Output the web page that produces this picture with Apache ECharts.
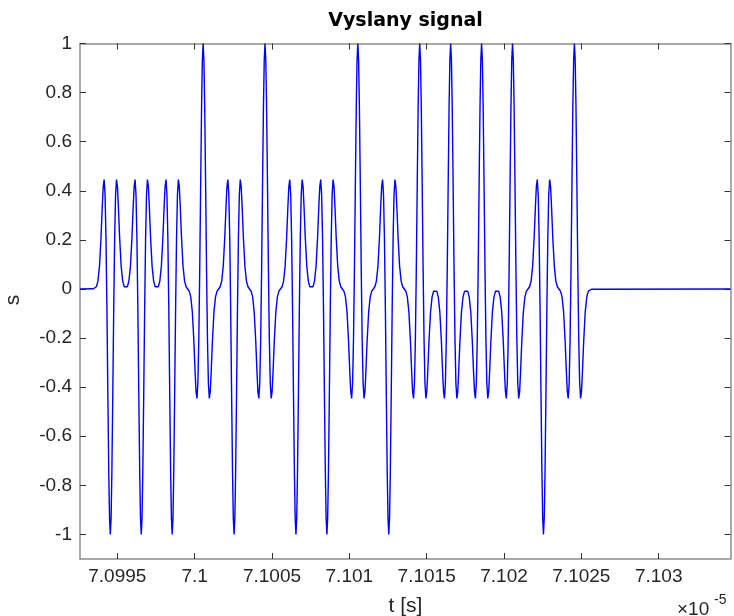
<!DOCTYPE html>
<html>
<head>
<meta charset="utf-8">
<script src="https://cdn.jsdelivr.net/npm/echarts@6/dist/echarts.min.js"></script>
<style>html,body{margin:0;padding:0;background:#fff}#c{width:734px;height:616px}</style>
</head>
<body>
<div id="c"></div>
<script>
// time axis values (in units of 1e-5 s)
const time = [
 7.099259, 7.099345,
 7.099365, 7.099375, 7.099385, 7.099395, 7.099403, 7.099409, 7.099415, 7.099421, 7.099427, 7.099433, 7.099439, 7.099445, 7.09945, 7.099455, 7.09946, 7.099465, 7.099471, 7.099477, 7.099483, 7.099489, 7.099495, 7.099501, 7.099507, 7.099515, 7.099525, 7.099535, 7.099545, 7.099555,
 7.099565, 7.099575, 7.099585, 7.099595, 7.099603, 7.099609, 7.099615, 7.099621, 7.099627, 7.099633, 7.099639, 7.099645, 7.09965, 7.099655, 7.09966, 7.099665, 7.099671, 7.099677, 7.099683, 7.099689, 7.099695, 7.099701, 7.099707, 7.099715, 7.099725, 7.099735, 7.099745, 7.099755,
 7.099765, 7.099775, 7.099785, 7.099795, 7.099803, 7.099809, 7.099815, 7.099821, 7.099827, 7.099833, 7.099839, 7.099845, 7.09985, 7.099855, 7.09986, 7.099865, 7.099871, 7.099877, 7.099883, 7.099889, 7.099895, 7.099901, 7.099907, 7.099915, 7.099925, 7.099935, 7.099945, 7.099955,
 7.099965, 7.099975, 7.099985, 7.099995, 7.100003, 7.100009, 7.100015, 7.100021, 7.100027, 7.100033, 7.100039, 7.100045, 7.10005, 7.100055, 7.10006, 7.100065, 7.100071, 7.100077, 7.100083, 7.100089, 7.100095, 7.100101, 7.100107, 7.100115, 7.100125, 7.100135, 7.100145, 7.100155,
 7.100165, 7.100175, 7.100185, 7.100195, 7.100203, 7.100209, 7.100215, 7.100221, 7.100227, 7.100233, 7.100239, 7.100245, 7.10025, 7.100255, 7.10026, 7.100265, 7.100271, 7.100277, 7.100283, 7.100289, 7.100295, 7.100301, 7.100307, 7.100315, 7.100325, 7.100335, 7.100345, 7.100355,
 7.100365, 7.100375, 7.100385, 7.100395, 7.100403, 7.100409, 7.100415, 7.100421, 7.100427, 7.100433, 7.100439, 7.100445, 7.10045, 7.100455, 7.10046, 7.100465, 7.100471, 7.100477, 7.100483, 7.100489, 7.100495, 7.100501, 7.100507, 7.100515, 7.100525, 7.100535, 7.100545, 7.100555,
 7.100565, 7.100575, 7.100585, 7.100595, 7.100603, 7.100609, 7.100615, 7.100621, 7.100627, 7.100633, 7.100639, 7.100645, 7.10065, 7.100655, 7.10066, 7.100665, 7.100671, 7.100677, 7.100683, 7.100689, 7.100695, 7.100701, 7.100707, 7.100715, 7.100725, 7.100735, 7.100745, 7.100755,
 7.100765, 7.100775, 7.100785, 7.100795, 7.100803, 7.100809, 7.100815, 7.100821, 7.100827, 7.100833, 7.100839, 7.100845, 7.10085, 7.100855, 7.10086, 7.100865, 7.100871, 7.100877, 7.100883, 7.100889, 7.100895, 7.100901, 7.100907, 7.100915, 7.100925, 7.100935, 7.100945, 7.100955,
 7.100965, 7.100975, 7.100985, 7.100995, 7.101003, 7.101009, 7.101015, 7.101021, 7.101027, 7.101033, 7.101039, 7.101045, 7.10105, 7.101055, 7.10106, 7.101065, 7.101071, 7.101077, 7.101083, 7.101089, 7.101095, 7.101101, 7.101107, 7.101115, 7.101125, 7.101135, 7.101145, 7.101155,
 7.101165, 7.101175, 7.101185, 7.101195, 7.101203, 7.101209, 7.101215, 7.101221, 7.101227, 7.101233, 7.101239, 7.101245, 7.10125, 7.101255, 7.10126, 7.101265, 7.101271, 7.101277, 7.101283, 7.101289, 7.101295, 7.101301, 7.101307, 7.101315, 7.101325, 7.101335, 7.101345, 7.101355,
 7.101365, 7.101375, 7.101385, 7.101395, 7.101403, 7.101409, 7.101415, 7.101421, 7.101427, 7.101433, 7.101439, 7.101445, 7.10145, 7.101455, 7.10146, 7.101465, 7.101471, 7.101477, 7.101483, 7.101489, 7.101495, 7.101501, 7.101507, 7.101515, 7.101525, 7.101535, 7.101545, 7.101555,
 7.101565, 7.101575, 7.101585, 7.101595, 7.101603, 7.101609, 7.101615, 7.101621, 7.101627, 7.101633, 7.101639, 7.101645, 7.10165, 7.101655, 7.10166, 7.101665, 7.101671, 7.101677, 7.101683, 7.101689, 7.101695, 7.101701, 7.101707, 7.101715, 7.101725, 7.101735, 7.101745, 7.101755,
 7.101765, 7.101775, 7.101785, 7.101795, 7.101803, 7.101809, 7.101815, 7.101821, 7.101827, 7.101833, 7.101839, 7.101845, 7.10185, 7.101855, 7.10186, 7.101865, 7.101871, 7.101877, 7.101883, 7.101889, 7.101895, 7.101901, 7.101907, 7.101915, 7.101925, 7.101935, 7.101945, 7.101955,
 7.101965, 7.101975, 7.101985, 7.101995, 7.102003, 7.102009, 7.102015, 7.102021, 7.102027, 7.102033, 7.102039, 7.102045, 7.10205, 7.102055, 7.10206, 7.102065, 7.102071, 7.102077, 7.102083, 7.102089, 7.102095, 7.102101, 7.102107, 7.102115, 7.102125, 7.102135, 7.102145, 7.102155,
 7.102165, 7.102175, 7.102185, 7.102195, 7.102203, 7.102209, 7.102215, 7.102221, 7.102227, 7.102233, 7.102239, 7.102245, 7.10225, 7.102255, 7.10226, 7.102265, 7.102271, 7.102277, 7.102283, 7.102289, 7.102295, 7.102301, 7.102307, 7.102315, 7.102325, 7.102335, 7.102345, 7.102355,
 7.102365, 7.102375, 7.102385, 7.102395, 7.102403, 7.102409, 7.102415, 7.102421, 7.102427, 7.102433, 7.102439, 7.102445, 7.10245, 7.102455, 7.10246, 7.102465, 7.102471, 7.102477, 7.102483, 7.102489, 7.102495, 7.102501, 7.102507, 7.102515, 7.102525, 7.102535, 7.102545, 7.102555,
 7.102565, 7.103464
];
// signal values s
const signal = [
 0, 0.001,
 0.009, 0.032, 0.093, 0.212, 0.337, 0.417, 0.446, 0.384, 0.206, -0.08, -0.426, -0.748, -0.933, -1, -0.933, -0.748, -0.426, -0.08, 0.206, 0.384, 0.446, 0.417, 0.337, 0.212, 0.093, 0.032, 0.009, 0.004,
 0.009, 0.032, 0.093, 0.212, 0.337, 0.417, 0.446, 0.384, 0.206, -0.08, -0.426, -0.748, -0.933, -1, -0.933, -0.748, -0.426, -0.08, 0.206, 0.384, 0.446, 0.417, 0.337, 0.212, 0.093, 0.032, 0.009, 0.004,
 0.009, 0.032, 0.093, 0.212, 0.337, 0.417, 0.446, 0.384, 0.206, -0.08, -0.426, -0.748, -0.933, -1, -0.933, -0.748, -0.426, -0.08, 0.206, 0.384, 0.446, 0.417, 0.337, 0.212, 0.093, 0.032, 0.009, 0,
 -0.009, -0.032, -0.093, -0.212, -0.337, -0.417, -0.446, -0.384, -0.206, 0.08, 0.426, 0.748, 0.933, 1, 0.933, 0.748, 0.426, 0.08, -0.206, -0.384, -0.446, -0.417, -0.337, -0.212, -0.093, -0.032, -0.009, 0,
 0.009, 0.032, 0.093, 0.212, 0.337, 0.417, 0.446, 0.384, 0.206, -0.08, -0.426, -0.748, -0.933, -1, -0.933, -0.748, -0.426, -0.08, 0.206, 0.384, 0.446, 0.417, 0.337, 0.212, 0.093, 0.032, 0.009, 0,
 -0.009, -0.032, -0.093, -0.212, -0.337, -0.417, -0.446, -0.384, -0.206, 0.08, 0.426, 0.748, 0.933, 1, 0.933, 0.748, 0.426, 0.08, -0.206, -0.384, -0.446, -0.417, -0.337, -0.212, -0.093, -0.032, -0.009, 0,
 0.009, 0.032, 0.093, 0.212, 0.337, 0.417, 0.446, 0.384, 0.206, -0.08, -0.426, -0.748, -0.933, -1, -0.933, -0.748, -0.426, -0.08, 0.206, 0.384, 0.446, 0.417, 0.337, 0.212, 0.093, 0.032, 0.009, 0.004,
 0.009, 0.032, 0.093, 0.212, 0.337, 0.417, 0.446, 0.384, 0.206, -0.08, -0.426, -0.748, -0.933, -1, -0.933, -0.748, -0.426, -0.08, 0.206, 0.384, 0.446, 0.417, 0.337, 0.212, 0.093, 0.032, 0.009, 0,
 -0.009, -0.032, -0.093, -0.212, -0.337, -0.417, -0.446, -0.384, -0.206, 0.08, 0.426, 0.748, 0.933, 1, 0.933, 0.748, 0.426, 0.08, -0.206, -0.384, -0.446, -0.417, -0.337, -0.212, -0.093, -0.032, -0.009, 0,
 0.009, 0.032, 0.093, 0.212, 0.337, 0.417, 0.446, 0.384, 0.206, -0.08, -0.426, -0.748, -0.933, -1, -0.933, -0.748, -0.426, -0.08, 0.206, 0.384, 0.446, 0.417, 0.337, 0.212, 0.093, 0.032, 0.009, 0,
 -0.009, -0.032, -0.093, -0.212, -0.337, -0.417, -0.446, -0.384, -0.206, 0.08, 0.426, 0.748, 0.933, 1, 0.933, 0.748, 0.426, 0.08, -0.206, -0.384, -0.446, -0.417, -0.337, -0.212, -0.093, -0.032, -0.009, -0.004,
 -0.009, -0.032, -0.093, -0.212, -0.337, -0.417, -0.446, -0.384, -0.206, 0.08, 0.426, 0.748, 0.933, 1, 0.933, 0.748, 0.426, 0.08, -0.206, -0.384, -0.446, -0.417, -0.337, -0.212, -0.093, -0.032, -0.009, -0.004,
 -0.009, -0.032, -0.093, -0.212, -0.337, -0.417, -0.446, -0.384, -0.206, 0.08, 0.426, 0.748, 0.933, 1, 0.933, 0.748, 0.426, 0.08, -0.206, -0.384, -0.446, -0.417, -0.337, -0.212, -0.093, -0.032, -0.009, -0.004,
 -0.009, -0.032, -0.093, -0.212, -0.337, -0.417, -0.446, -0.384, -0.206, 0.08, 0.426, 0.748, 0.933, 1, 0.933, 0.748, 0.426, 0.08, -0.206, -0.384, -0.446, -0.417, -0.337, -0.212, -0.093, -0.032, -0.009, 0,
 0.009, 0.032, 0.093, 0.212, 0.337, 0.417, 0.446, 0.384, 0.206, -0.08, -0.426, -0.748, -0.933, -1, -0.933, -0.748, -0.426, -0.08, 0.206, 0.384, 0.446, 0.417, 0.337, 0.212, 0.093, 0.032, 0.009, 0,
 -0.009, -0.032, -0.093, -0.212, -0.337, -0.417, -0.446, -0.384, -0.206, 0.08, 0.426, 0.748, 0.933, 1, 0.933, 0.748, 0.426, 0.08, -0.206, -0.384, -0.446, -0.417, -0.337, -0.212, -0.093, -0.032, -0.009, -0.002,
 -0.001, 0
];
const xTickValues = [7.0995, 7.1, 7.1005, 7.101, 7.1015, 7.102, 7.1025, 7.103];
const xTickLabels = ['7.0995', '7.1', '7.1005', '7.101', '7.1015', '7.102', '7.1025', '7.103'];
const yTickValues = [-1, -0.8, -0.6, -0.4, -0.2, 0, 0.2, 0.4, 0.6, 0.8, 1];
const yTickLabels = ['-1', '-0.8', '-0.6', '-0.4', '-0.2', '0', '0.2', '0.4', '0.6', '0.8', '1'];
const xRange = [7.099259, 7.103464];
const yRange = [-1.1, 1];
const titleText = 'Vyslany signal';
const xName = 't [s]';
const yName = 's';

const FONT = '"Liberation Sans", Arial, Helvetica, sans-serif';
const AXIS_COLOR = '#8c8c8c';
const TICK_COLOR = '#333';
const TEXT_COLOR = '#262626';

function lookup(vals, labels) {
  return function (v) {
    for (let i = 0; i < vals.length; i++) {
      if (Math.abs(vals[i] - v) < 1e-9) return labels[i];
    }
    return '';
  };
}

const pts = time.map((t, i) => [t, signal[i]]);

function xAx(pos, showLabel) {
  return {
    type: 'value', position: pos, min: xRange[0], max: xRange[1],
    axisLine: { show: true, onZero: false, lineStyle: { color: AXIS_COLOR, width: 1.5 } },
    axisTick: { show: true, inside: true, length: 6, customValues: xTickValues, lineStyle: { color: TICK_COLOR, width: 1 } },
    axisLabel: { show: showLabel, customValues: xTickValues, formatter: lookup(xTickValues, xTickLabels),
      color: TEXT_COLOR, fontFamily: FONT, fontSize: 19, margin: 8 },
    splitLine: { show: false }
  };
}
function yAx(pos, showLabel) {
  return {
    type: 'value', position: pos, min: yRange[0], max: yRange[1],
    axisLine: { show: true, onZero: false, lineStyle: { color: AXIS_COLOR, width: 1.5 } },
    axisTick: { show: true, inside: true, length: 6, customValues: yTickValues, lineStyle: { color: TICK_COLOR, width: 1 } },
    axisLabel: { show: showLabel, customValues: yTickValues, formatter: lookup(yTickValues, yTickLabels),
      color: TEXT_COLOR, fontFamily: FONT, fontSize: 19, margin: 8 },
    splitLine: { show: false }
  };
}

const chart = echarts.init(document.getElementById('c'));
chart.setOption({
  animation: false,
  backgroundColor: '#fff',
  title: {
    text: titleText, left: 405.5, top: 12, textAlign: 'center', padding: 0,
    textStyle: { fontFamily: '"DejaVu Sans", sans-serif', fontWeight: 'bold', fontSize: 19, color: '#000' }
  },
  grid: { left: 80, right: 3.5, top: 43.5, bottom: 57, containLabel: false },
  xAxis: [xAx('bottom', true), xAx('top', false)],
  yAxis: [yAx('left', true), yAx('right', false)],
  series: [{
    type: 'line', data: pts, xAxisIndex: 0, yAxisIndex: 0,
    symbol: 'none', showSymbol: false, smooth: false,
    lineStyle: { color: '#0000ff', width: 1.4 }
  }],
  graphic: [
    { type: 'text', x: 405.5, y: 606.5, silent: true,
      style: { text: xName, font: '21px ' + FONT, fill: TEXT_COLOR, textAlign: 'center', textVerticalAlign: 'middle' } },
    { type: 'text', x: 13, y: 300, rotation: Math.PI / 2, silent: true,
      style: { text: yName, font: '21px ' + FONT, fill: TEXT_COLOR, textAlign: 'center', textVerticalAlign: 'middle' } },
    { type: 'text', x: 677, y: 609.5, silent: true,
      style: { text: '×10', font: '19px ' + FONT, fill: TEXT_COLOR, textAlign: 'left', textVerticalAlign: 'middle' } },
    { type: 'text', x: 714, y: 600, silent: true,
      style: { text: '-5', font: '14px ' + FONT, fill: TEXT_COLOR, textAlign: 'left', textVerticalAlign: 'middle' } }
  ]
});
</script>
</body>
</html>
